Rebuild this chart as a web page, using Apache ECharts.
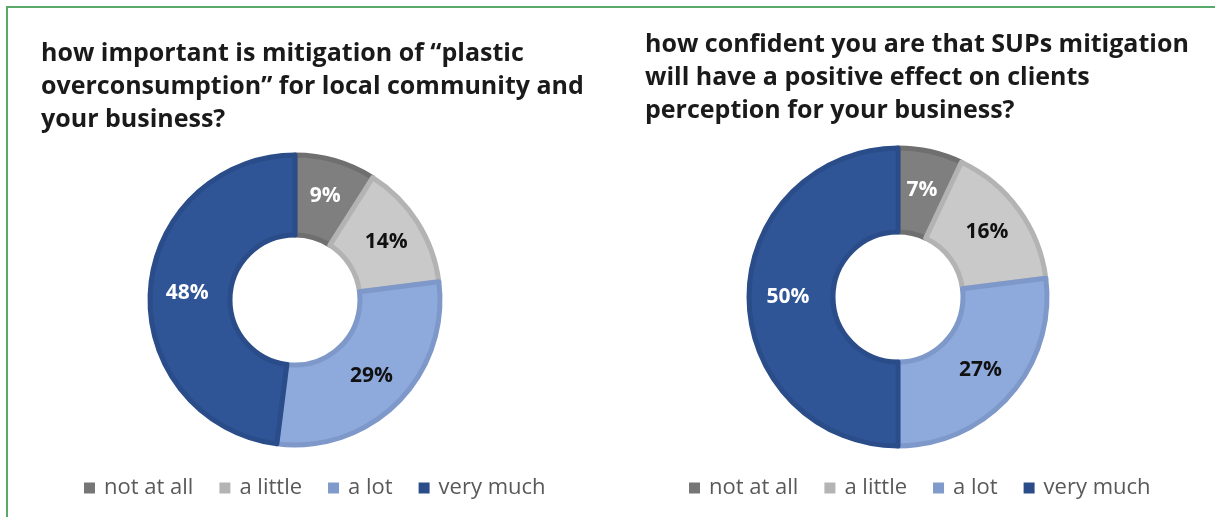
<!DOCTYPE html>
<html>
<head>
<meta charset="utf-8">
<script src="https://cdn.jsdelivr.net/npm/echarts@6/dist/echarts.min.js"></script>
<style>
  html, body { margin: 0; padding: 0; background: #fff; }
  #frame { position: absolute; left: 6px; top: 6px; right: 0; bottom: 0;
           border-left: 2px solid #5aa96b; border-top: 2px solid #5aa96b; }
  #main { position: absolute; left: 0; top: 0; width: 1215px; height: 517px; }
</style>
</head>
<body>
<div id="frame"></div>
<div id="main"></div>
<script>
// answer categories (same for both questions)
var categories = ['not at all', 'a little', 'a lot', 'very much'];
// left chart: importance of mitigation
var importanceValues = [9, 14, 29, 48];
// right chart: confidence in positive effect
var confidenceValues = [7, 16, 27, 50];

var titleLeft = 'how important is mitigation of \u201cplastic\noverconsumption\u201d for local community and\nyour business?';
var titleRight = 'how confident you are that SUPs mitigation\nwill have a positive effect on clients\nperception for your business?';

var fills = ['#7f7f7f', '#c9c9c9', '#8eaadc', '#2f5597'];
var edges = ['#6f6f6f', '#b3b3b3', '#7e98c9', '#2a4c89'];
var labelColors = ['#ffffff', '#111111', '#111111', '#ffffff'];
var legendColors = ['#767676', '#b4b4b4', '#7f9acb', '#2a4d8a'];

var fontFam = '"Open Sans", "Noto Sans", sans-serif';

var buildData = function(values) {
	var out = [];
	for (var i = 0; i < values.length; i++) {
		out.push({
			name: categories[i],
			value: values[i],
			itemStyle: { color: fills[i], borderColor: edges[i], borderWidth: 5 },
			label: { color: labelColors[i] }
		});
	}
	return out;
};

var makeSeries = function(values, center, radius) {
	return {
		type: 'pie',
		center: center,
		radius: radius,
		startAngle: 90,
		clockwise: true,
		avoidLabelOverlap: false,
		silent: true,
		label: {
			show: true,
			position: 'inside',
			formatter: '{c}%',
			fontSize: 21,
			fontWeight: 'bold',
			fontFamily: fontFam
		},
		labelLine: { show: false },
		data: buildData(values)
	};
};

var legendBase = function(left) {
	return {
		data: categories.map(function(c, i) {
			return { name: c, itemStyle: { color: legendColors[i], borderWidth: 0 } };
		}),
		left: left,
		top: 477,
		padding: 0,
		icon: 'rect',
		itemWidth: 11,
		itemHeight: 11,
		itemGap: 26,
		selectedMode: false,
		textStyle: { color: '#595959', fontSize: 22, fontFamily: fontFam, padding: [0, 0, 0, 4] }
	};
};

//title style
var titleStyle = { fontSize: 25, fontWeight: 'bold', lineHeight: 33, color: '#1a1a1a', fontFamily: fontFam };

var myChart = echarts.init(document.getElementById('main'));
var option = {
	animation: false,
	title: [
		{ text: titleLeft, left: 41, top: 37, padding: 0, textStyle: titleStyle },
		{ text: titleRight, left: 645, top: 28, padding: 0, textStyle: titleStyle }
	],
	legend: [legendBase(84), legendBase(689)],
	series: [
		makeSeries(importanceValues, [295, 300], [65, 145]),
		makeSeries(confidenceValues, [898, 297], [65, 149])
	]
};
myChart.setOption(option);
</script>
</body>
</html>
